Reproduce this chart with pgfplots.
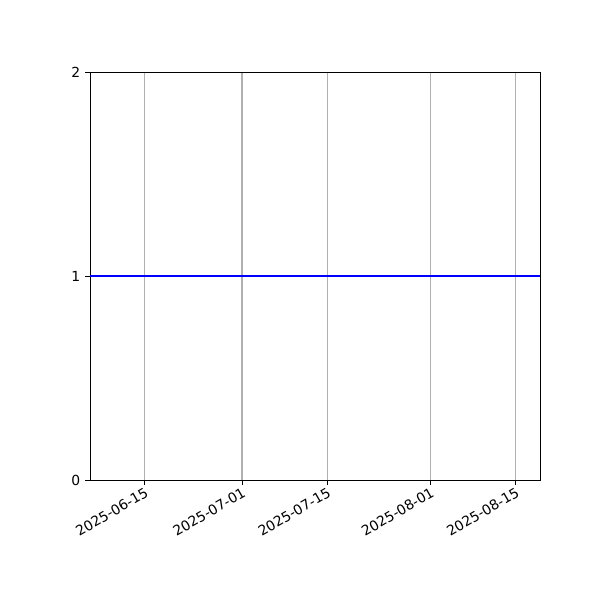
\documentclass[border=0pt]{standalone}
\usepackage{fontspec}
\setmainfont{DejaVu Sans}
\usepackage{pgfplots}
\pgfplotsset{compat=1.18}
\begin{document}
\begin{tikzpicture}[x=0.72pt,y=0.72pt]
% 600 x 600 px canvas, 1 px = 0.72 pt; axis box at px 90..540 (x), 72..480 (y from top)
\path[use as bounding box] (-90,-120) rectangle (510,480);
\begin{axis}[
    at={(0,0)}, anchor=south west,
    scale only axis,
    width=324pt, height=293.76pt,
    xmin=-9, xmax=65,
    ymin=0, ymax=2,
    xtick={0,16,30,47,61},
    xticklabels={2025-06-15,2025-07-01,2025-07-15,2025-08-01,2025-08-15},
    ytick={0,1,2},
    xticklabel style={rotate=30, anchor=north east, font=\fontsize{10}{12}\selectfont, inner sep=1pt},
    yticklabel style={font=\fontsize{10}{12}\selectfont},
    /pgf/number format/assume math mode=true,
    tick align=outside,
    major tick length=3.5pt,
    tick pos=left,
    axis line style={black, line width=0.6pt},
    every tick/.style={black, line width=0.6pt},
    xmajorgrids=true,
    major grid style={color=black!31, line width=0.8pt},
]
\addplot[color=blue, line width=1.5pt, mark=none] coordinates {
    (-9,1) (0,1) (16,1) (30,1) (47,1) (61,1) (65,1)
};
\end{axis}
\end{tikzpicture}
\end{document}
